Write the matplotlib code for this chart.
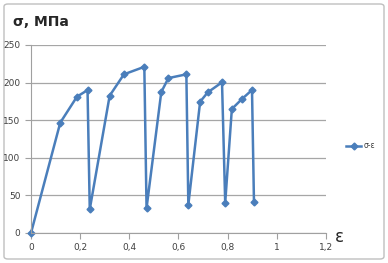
import matplotlib
matplotlib.use("Agg")
import matplotlib.pyplot as plt
from matplotlib.patches import FancyBboxPatch

# strain / stress readings (loading - unloading cycles)
strain = [0.0, 0.119, 0.187, 0.230, 0.239, 0.320, 0.378, 0.461, 0.470,
          0.530, 0.559, 0.632, 0.640, 0.688, 0.719, 0.777, 0.790,
          0.817, 0.857, 0.899, 0.907]
stress = [0.0, 146.7, 181.3, 190.0, 31.5, 182.6, 211.0, 221.0, 33.0,
          187.5, 206.0, 211.0, 37.6, 174.6, 187.0, 200.4, 40.3,
          164.9, 177.8, 190.2, 41.2]

x_ticks = [0, 0.2, 0.4, 0.6, 0.8, 1.0, 1.2]
x_labels = ["0", "0,2", "0,4", "0,6", "0,8", "1", "1,2"]
y_ticks = [0, 50, 100, 150, 200, 250]

blue = "#4a7ebb"

fig = plt.figure(figsize=(3.88, 2.63), dpi=100)
W, H = 388, 263

# chart border like an Excel chart area
border = FancyBboxPatch((4 / W, 4 / H), 380 / W, 255 / H,
                        boxstyle="round,pad=0,rounding_size=0.01",
                        transform=fig.transFigure, facecolor="white",
                        edgecolor="#bfbfbf", linewidth=1.0, zorder=-5)
fig.patches.append(border)

ax = fig.add_axes([31 / W, (H - 233) / H, (326 - 31) / W, (233 - 45) / H])
ax.patch.set_alpha(0)
ax.plot(strain, stress, color=blue, linewidth=1.8, marker="D",
        markersize=3.5, label="σ-ε", clip_on=False)

ax.set_xlim(0, 1.2)
ax.set_ylim(0, 250)
ax.set_xticks(x_ticks)
ax.set_xticklabels(x_labels)
ax.set_yticks(y_ticks)
ax.tick_params(labelsize=6.5, colors="#404040", length=4, width=0.8)
ax.tick_params(axis="x", direction="out", color="#a0a0a0")
ax.tick_params(axis="y", direction="out", color="#a0a0a0", length=4)
ax.yaxis.grid(True, color="#a6a6a6", linewidth=0.9)
ax.set_axisbelow(True)
for side in ["top", "right"]:
    ax.spines[side].set_visible(False)
ax.spines["left"].set_color("#a0a0a0")
ax.spines["bottom"].set_color("#a0a0a0")

fig.text(13 / W, 1 - 22 / H, "σ, МПа", fontsize=10, fontweight="bold",
         color="#262626", va="center", ha="left")
fig.text(339 / W, 1 - 237 / H, "ε", fontsize=12, color="#262626",
         va="center", ha="center")

leg = ax.legend(loc="center left", bbox_to_anchor=(339 / W, 1 - 146 / H),
                bbox_transform=fig.transFigure, frameon=False,
                fontsize=5.5, handlelength=2.0, handletextpad=0.3)
for t in leg.get_texts():
    t.set_color("#404040")

fig.savefig("out.png", dpi=100)
